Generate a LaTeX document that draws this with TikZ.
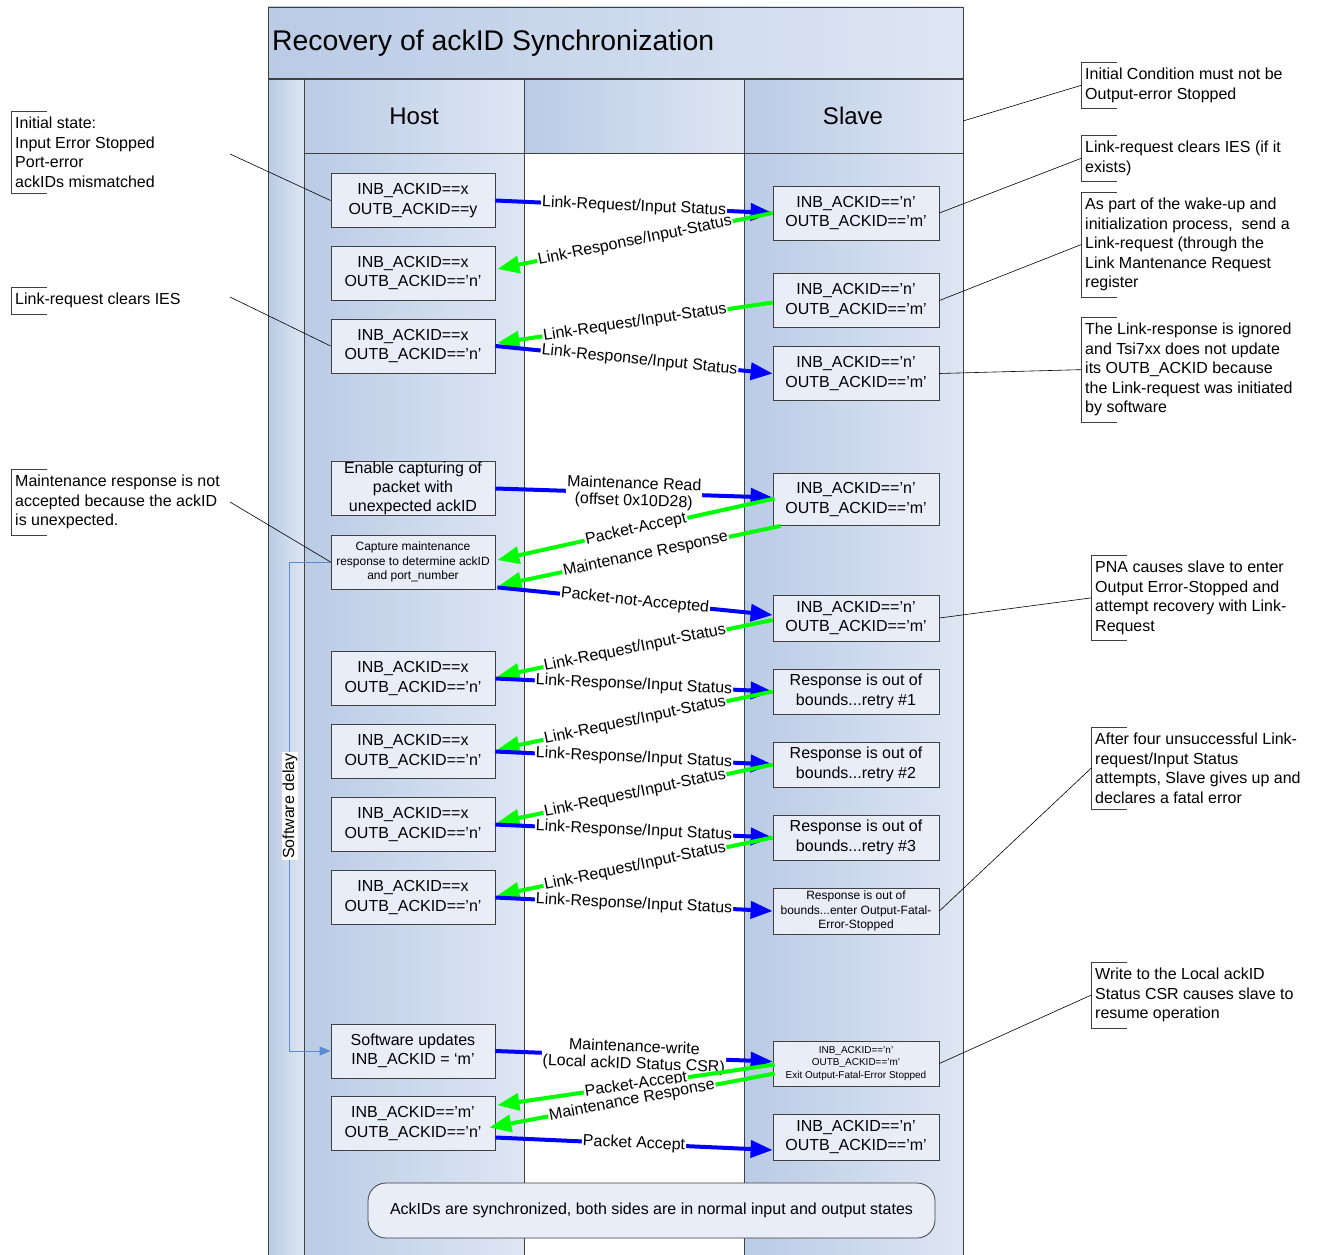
\documentclass[tikz,border=0pt]{standalone}
\usepackage{fontspec}
\setmainfont{Liberation Sans}
\usetikzlibrary{arrows.meta,calc}
\definecolor{laneL}{RGB}{186,203,230}
\definecolor{laneR}{RGB}{222,230,243}
\definecolor{boxfill}{RGB}{232,237,248}
\definecolor{edge}{RGB}{64,64,64}
\definecolor{sdblue}{RGB}{91,139,208}
\definecolor{arrblue}{RGB}{0,0,255}
\definecolor{arrgreen}{RGB}{0,255,0}
\newcommand{\fs}[2]{\fontsize{#1}{#2}\selectfont}
\newcommand{\notebrk}[1]{\draw[edge,line width=0.8pt] ([xshift=36pt]#1.north west) -- (#1.north west) -- (#1.south west) -- ([xshift=36pt]#1.south west);}
\begin{document}
\begin{tikzpicture}[x=1pt,y=-1pt,
  every node/.style={inner sep=0pt},
  hbox/.style={draw=edge, line width=0.8pt, fill=boxfill, minimum width=164pt, minimum height=54pt, align=center, font=\fs{16}{19.5}},
  sbox/.style={hbox, minimum width=166pt},
  note/.style={align=left, font=\fs{16}{19.5}, inner xsep=4pt, inner ysep=6pt, anchor=north west},
  blu/.style={draw=arrblue, line width=4pt, -{Triangle[length=22pt,width=17pt]}},
  grn/.style={draw=arrgreen, line width=4pt, -{Triangle[length=22pt,width=17pt]}},
  lab/.style={sloped, fill=white, font=\fs{16}{17}, inner sep=1pt, align=center},
  lead/.style={draw=black, line width=0.6pt},
  sd/.style={draw=sdblue, line width=1pt, -{Triangle[length=11pt,width=9pt]}}
]
\useasboundingbox (0,0) rectangle (1322,1255);
% pool background
\fill[left color=laneL, right color=laneR] (268,7) rectangle (963,79);
\fill[left color=laneL, right color=laneR] (268,79) rectangle (304,1256);
\fill[left color=laneL, right color=laneR] (304,79) rectangle (524,153);
\fill[left color=laneL, right color=laneR] (524,79) rectangle (744,153);
\fill[left color=laneL, right color=laneR] (744,79) rectangle (963,153);
\fill[left color=laneL, right color=laneR] (304,153) rectangle (524,1256);
\fill[white] (524,153) rectangle (744,1256);
\fill[left color=laneL, right color=laneR] (744,153) rectangle (963,1256);
\draw[edge, line width=0.9pt] (268,7) rectangle (963,1256);
\draw[edge, line width=2pt] (268,79) -- (963,79);
\draw[edge, line width=0.9pt] (304,80) -- (304,1256);
\draw[edge, line width=0.9pt] (524,80) -- (524,1256);
\draw[edge, line width=0.9pt] (744,80) -- (744,1256);
\draw[edge, line width=0.9pt] (304,153) -- (963,153);
\node[anchor=west, font=\fs{28.4}{30}] (title) at (272,43) {Recovery of ackID Synchronization};
\node[font=\fs{24}{26}] (host) at (414,116) {Host};
\node[font=\fs{24}{26}] (slave) at (853,116) {Slave};

% host boxes
\node[hbox] (H1) at (413,200.5) {INB\_ACKID==x\\OUTB\_ACKID==y};
\node[hbox] (H2) at (413,273) {INB\_ACKID==x\\OUTB\_ACKID==’n’};
\node[hbox] (H3) at (413,346) {INB\_ACKID==x\\OUTB\_ACKID==’n’};
\node[hbox, font=\fs{16}{19}] (H4) at (413,488.5) {Enable capturing of\\packet with\\unexpected ackID};
\node[hbox, font=\fs{12}{14.5}] (H5) at (413,562) {Capture maintenance\\response to determine ackID\\and port\_number};
\node[hbox] (H6) at (413,678.5) {INB\_ACKID==x\\OUTB\_ACKID==’n’};
\node[hbox] (H7) at (413,751.5) {INB\_ACKID==x\\OUTB\_ACKID==’n’};
\node[hbox] (H8) at (413,824.5) {INB\_ACKID==x\\OUTB\_ACKID==’n’};
\node[hbox] (H9) at (413,897.5) {INB\_ACKID==x\\OUTB\_ACKID==’n’};
\node[hbox] (H10) at (413,1051) {Software updates\\INB\_ACKID = ‘m’};
\node[hbox] (H11) at (413,1123.5) {INB\_ACKID==’m’\\OUTB\_ACKID==’n’};

% slave boxes
\node[sbox] (S1) at (856,213) {INB\_ACKID==’n’\\OUTB\_ACKID==’m’};
\node[sbox] (S2) at (856,300.5) {INB\_ACKID==’n’\\OUTB\_ACKID==’m’};
\node[sbox] (S3) at (856,373.5) {INB\_ACKID==’n’\\OUTB\_ACKID==’m’};
\node[sbox, minimum height=52pt] (S4) at (856,499.5) {INB\_ACKID==’n’\\OUTB\_ACKID==’m’};
\node[sbox, minimum height=46pt] (S5) at (856,618) {INB\_ACKID==’n’\\OUTB\_ACKID==’m’};
\node[sbox, minimum height=45pt] (S6) at (856,691.5) {Response is out of\\bounds...retry \#1};
\node[sbox, minimum height=45pt] (S7) at (856,764.5) {Response is out of\\bounds...retry \#2};
\node[sbox, minimum height=45pt] (S8) at (856,837.5) {Response is out of\\bounds...retry \#3};
\node[sbox, minimum height=46pt, font=\fs{12}{14.5}] (S9) at (856,911) {Response is out of\\bounds...enter Output-Fatal-\\Error-Stopped};
\node[sbox, minimum height=45pt, font=\fs{10}{12.5}] (S10) at (856,1063.5) {INB\_ACKID==’n’\\OUTB\_ACKID==’m’\\Exit Output-Fatal-Error Stopped};
\node[sbox, minimum height=46pt] (S11) at (856,1137) {INB\_ACKID==’n’\\OUTB\_ACKID==’m’};

% final box
\node[draw=edge, line width=0.8pt, fill=boxfill, rounded corners=18pt, minimum width=567pt, minimum height=55pt, font=\fs{16}{19}] (fin) at (651.5,1210.5) {AckIDs are synchronized, both sides are in normal input and output states};

% software delay
\draw[sd] (H5.west) -- ($(H5.west)+(-41,0)$) |- (H10.west);
\node[rotate=90, fill=white, font=\fs{16}{17}, inner sep=1pt] (sdl) at (290,806) {Software delay};

% message arrows
\draw[blu] (H1.east) -- node[lab]{Link-Request/Input Status} (S1.west);
\draw[grn] (S1.west) -- node[lab]{Link-Response/Input-Status} ($(H2.east)+(2,-4)$);
\draw[grn] ($(S2.west)+(0,2)$) -- node[lab]{Link-Request/Input-Status} ($(H3.east)+(2,-3)$);
\draw[blu] (H3.east) -- node[lab, pos=0.52]{Link-Response/Input Status} (S3.west);

\draw[blu] (H4.east) -- node[lab]{Maintenance Read\\(offset 0x10D28)} ($(S4.west)+(0,-2)$);
\draw[grn] ($(S4.west)+(2,-1)$) -- node[lab]{Packet-Accept} ($(H5.east)+(2,-2)$);
\draw[grn] ($(S4.south west)+(8,0)$) -- node[lab, pos=0.48]{Maintenance Response} ($(H5.south east)+(4,-4)$);
\draw[blu] ($(H5.south east)+(2,-2)$) -- node[lab]{Packet-not-Accepted} ($(S5.west)+(0,-3)$);

\draw[grn] ($(S5.west)+(0,2)$) -- node[lab]{Link-Request/Input-Status} ($(H6.east)+(2,-2)$);
\draw[blu] (H6.east) -- node[lab]{Link-Response/Input Status} (S6.west);
\draw[grn] (S6.west) -- node[lab]{Link-Request/Input-Status} ($(H7.east)+(2,-2)$);
\draw[blu] (H7.east) -- node[lab]{Link-Response/Input Status} (S7.west);
\draw[grn] (S7.west) -- node[lab]{Link-Request/Input-Status} ($(H8.east)+(2,-2)$);
\draw[blu] (H8.east) -- node[lab]{Link-Response/Input Status} (S8.west);
\draw[grn] (S8.west) -- node[lab]{Link-Request/Input-Status} ($(H9.east)+(2,-2)$);
\draw[blu] (H9.east) -- node[lab]{Link-Response/Input Status} (S9.west);

\draw[blu] (H10.east) -- node[lab]{Maintenance-write\\(Local ackID Status CSR)} ($(S10.west)+(0,-2)$);
\draw[grn] ($(S10.west)+(2,1)$) -- node[lab]{Packet-Accept} ($(H11.north east)+(2,9)$);
\draw[grn] ($(S10.west)+(2,10)$) -- node[lab]{Maintenance Response} ($(H11.east)+(-6,4)$);
\draw[blu] ($(H11.east)+(0,14)$) -- node[lab]{Packet Accept} ($(S11.west)+(0,13)$);

% left notes
\node[note] (N1) at (11,111) {Initial state:\\Input Error Stopped\\Port-error\\ackIDs mismatched};
\notebrk{N1}
\node[note] (N2) at (11,287) {Link-request clears IES};
\notebrk{N2}
\node[note] (N3) at (11,469) {Maintenance response is not\\accepted because the ackID\\is unexpected.};
\notebrk{N3}
\coordinate (c1) at (230,154);
\coordinate (c2) at (230,297);
\coordinate (c3) at (230,502);
\draw[lead] (c1) -- (H1.west);
\draw[lead] (c2) -- (H3.west);
\draw[lead] (c3) -- (H5.west);

% right notes
\node[note] (R1) at (1081,62) {Initial Condition must not be\\Output-error Stopped};
\notebrk{R1}
\node[note] (R2) at (1081,135) {Link-request clears IES (if it\\exists)};
\notebrk{R2}
\node[note] (R3) at (1081,192) {As part of the wake-up and\\initialization process, \ send a\\Link-request (through the\\Link Mantenance Request\\register};
\notebrk{R3}
\node[note] (R4) at (1081,317) {The Link-response is ignored\\and Tsi7xx does not update\\its OUTB\_ACKID because\\the Link-request was initiated\\by software};
\notebrk{R4}
\node[note] (R5) at (1091,555) {PNA causes slave to enter\\Output Error-Stopped and\\attempt recovery with Link-\\Request};
\notebrk{R5}
\node[note] (R6) at (1091,727) {After four unsuccessful Link-\\request/Input Status\\attempts, Slave gives up and\\declares a fatal error};
\notebrk{R6}
\node[note] (R7) at (1091,962) {Write to the Local ackID\\Status CSR causes slave to\\resume operation};
\notebrk{R7}
\coordinate (poolR) at (963,121);
\draw[lead] (poolR) -- (R1.west);
\draw[lead] (S1.east) -- (R2.west);
\draw[lead] (S2.east) -- (R3.west);
\draw[lead] (S3.east) -- (R4.west);
\draw[lead] (S5.east) -- (R5.west);
\draw[lead] (S9.east) -- (R6.west);
\draw[lead] (S10.east) -- (R7.west);
\end{tikzpicture}
\end{document}
